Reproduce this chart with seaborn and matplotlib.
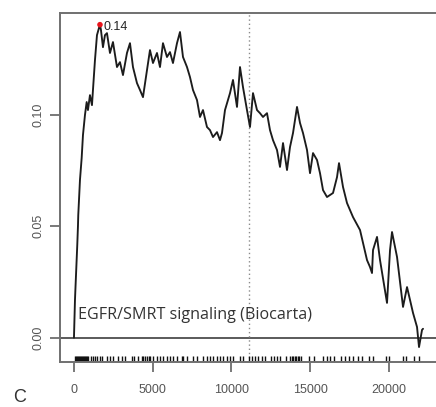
import matplotlib
matplotlib.use("Agg")
import matplotlib.pyplot as plt
import numpy as np
import pandas as pd
import seaborn as sns

# ---- data ----
rank = [0, 64, 95, 210, 254, 273, 381, 489, 572, 699, 807, 889, 1016, 1144, 1207,
        1334, 1461, 1588, 1652, 1715, 1842, 1969, 2096, 2287, 2478, 2732, 2922,
        3113, 3367, 3558, 3748, 4002, 4193, 4384, 4638, 4828, 5019, 5273, 5464,
        5654, 5908, 6099, 6289, 6544, 6734, 6925, 7179, 7369, 7560, 7814, 8005,
        8195, 8449, 8640, 8831, 9085, 9275, 9402, 9593, 9911, 10101, 10355, 10546,
        10736, 10990, 11181, 11372, 11626, 11816, 12007, 12261, 12452, 12642,
        12896, 13087, 13278, 13532, 13722, 13913, 14167, 14358, 14548, 14802,
        14993, 15184, 15438, 15628, 15819, 16073, 16454, 16708, 16835, 17089,
        17343, 17724, 18169, 18614, 18804, 18931, 18995, 19249, 19440, 19884,
        20075, 20202, 20520, 20901, 21155, 21346, 21536, 21790, 21917, 22108, 22172]
es = [0.0, 0.0169, 0.0223, 0.0416, 0.0501, 0.0550, 0.0707, 0.0806, 0.0909, 0.0999,
      0.1057, 0.1021, 0.1088, 0.1043, 0.1111, 0.1245, 0.1357, 0.1389, 0.1404,
      0.1380, 0.1303, 0.1357, 0.1366, 0.1277, 0.1326, 0.1214, 0.1236, 0.1178,
      0.1277, 0.1321, 0.1214, 0.1142, 0.1111, 0.1079, 0.1200, 0.1290, 0.1232,
      0.1277, 0.1214, 0.1321, 0.1259, 0.1281, 0.1232, 0.1321, 0.1371, 0.1259,
      0.1214, 0.1169, 0.1111, 0.1066, 0.0990, 0.1021, 0.0945, 0.0931, 0.0900,
      0.0922, 0.0886, 0.0918, 0.1021, 0.1097, 0.1156, 0.1035, 0.1214, 0.1124,
      0.1021, 0.0945, 0.1097, 0.1021, 0.1007, 0.0990, 0.1007, 0.0931, 0.0886,
      0.0842, 0.0766, 0.0873, 0.0752, 0.0855, 0.0918, 0.1035, 0.0963, 0.0918,
      0.0842, 0.0738, 0.0828, 0.0797, 0.0738, 0.0662, 0.0631, 0.0649, 0.0720,
      0.0783, 0.0676, 0.0604, 0.0541, 0.0483, 0.0348, 0.0317, 0.0290, 0.0393,
      0.0452, 0.0348, 0.0156, 0.0393, 0.0474, 0.0362, 0.0138, 0.0227, 0.0169,
      0.0111, 0.0048, -0.0042, 0.0035, 0.0040]
hits = [64, 127, 191, 254, 318, 381, 445, 508, 572, 635, 699, 762, 826, 889, 1080,
        1207, 1334, 1461, 1652, 1779, 2096, 2287, 2478, 2795, 3049, 3240, 3685,
        3812, 4066, 4320, 4384, 4511, 4638, 4765, 4828, 5019, 5273, 5464, 5654,
        5908, 6099, 6289, 6544, 6861, 6925, 7179, 7560, 7814, 8195, 8449, 8640,
        8831, 9085, 9275, 9466, 9720, 9911, 10101, 10546, 10736, 11118, 11308,
        11499, 11690, 11944, 12134, 12515, 12706, 12896, 13087, 13468, 13722,
        13850, 13913, 14040, 14104, 14231, 14294, 14421, 14930, 15247, 15819,
        16073, 16264, 16518, 16962, 17216, 17471, 17724, 18042, 18296, 18741,
        18995, 19821, 20011, 20901, 21092, 21600, 21917]
peak_rank = 1652
peak_es = 0.1404
peak_label = "0.14"
cutoff_rank = 11137
set_name = "EGFR/SMRT signaling (Biocarta)"
panel = "C"
xticks = [0, 5000, 10000, 15000, 20000]
xtick_labels = ["0", "5000", "10000", "15000", "20000"]
yticks = [0.00, 0.05, 0.10]
ytick_labels = ["0.00", "0.05", "0.10"]

# ---- figure ----
sns.set_style("white")
plt.rcParams["font.family"] = ["Liberation Sans", "DejaVu Sans"]

W, H = 436, 407
fig = plt.figure(figsize=(W / 100, H / 100), dpi=100)
ax = fig.add_axes([60 / W, (H - 362) / H, 377 / W, (362 - 13.3) / H])

df = pd.DataFrame({"rank": rank, "es": es})
ax.axhline(0, color="#4d4d4d", lw=1.3, zorder=1)
ax.axvline(cutoff_rank, color="#8a8a8a", lw=1.0, ls=(0, (1, 2)), zorder=1)
sns.lineplot(data=df, x="rank", y="es", ax=ax, color="#1c1c1c", lw=1.35,
             sort=False, estimator=None, zorder=3)
sns.rugplot(x=hits, ax=ax, height=0.016, color="#111111", lw=1.0,
            expand_margins=False)
sns.scatterplot(x=[peak_rank], y=[peak_es], ax=ax, color="#e8141c", s=16,
                edgecolor="none", zorder=4)
ax.text(peak_rank + 250, 0.138, peak_label, fontsize=9, color="#222222",
        ha="left", va="baseline")
ax.text(254, 0.00825, set_name, fontsize=11.6, color="#333333",
        family=["Open Sans", "DejaVu Sans"], ha="left", va="baseline")

ax.set_xlim(-887, 23059)
ax.set_ylim(-0.0109, 0.1455)
ax.set_xticks(xticks)
ax.set_xticklabels(xtick_labels)
ax.set_yticks(yticks)
ax.set_yticklabels(ytick_labels, rotation=90, va="center")
ax.set_xlabel("")
ax.set_ylabel("")

for s in ["left", "top", "bottom"]:
    ax.spines[s].set_color("#707070")
    ax.spines[s].set_linewidth(1.4)
ax.spines["right"].set_visible(False)
ax.tick_params(axis="both", direction="out", length=7, width=1.1,
               color="#555555", labelcolor="#555555", labelsize=9)
ax.tick_params(axis="x", bottom=True, pad=9)
ax.tick_params(axis="y", left=True, pad=4)

fig.text(13 / W, 0.003, panel, fontsize=13, color="#333333",
         ha="left", va="bottom")

fig.savefig("out.png", dpi=100)
